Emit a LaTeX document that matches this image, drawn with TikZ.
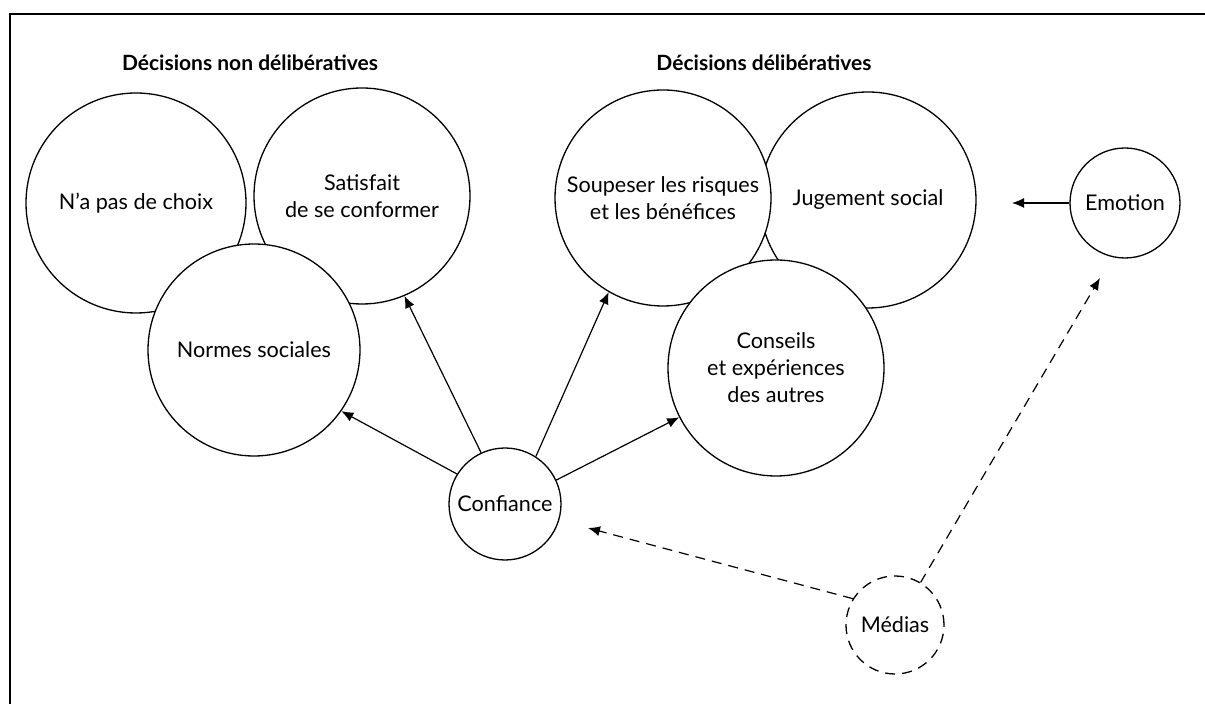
\documentclass[tikz,border=0pt]{standalone}
\usepackage{fontspec}
\setmainfont{Lato}
\usetikzlibrary{arrows.meta}

\begin{document}
\begin{tikzpicture}[x=0.5pt, y=-0.5pt,
  bigcirc/.style={draw, fill=white, circle, line width=0.65pt, minimum size=108pt, inner sep=0pt, align=center, font=\fontsize{10.8}{13.5}\selectfont},
  smallcirc/.style={draw, fill=white, circle, line width=0.65pt, inner sep=0pt, align=center, font=\fontsize{10.8}{13.5}\selectfont},
  heading/.style={font=\bfseries\fontsize{10.5}{12}\selectfont},
  arr/.style={-{Latex[length=6pt, width=5pt]}, line width=0.6pt}]
  \useasboundingbox (0,0) rectangle (1205,704);
  % Frame
  \draw[line width=0.8pt] (10,704) -- (10,14) -- (1205,14);
  % Headings
  \node[heading] (nondelib) at (250,63) {Décisions non délibératives};
  \node[heading] (delib) at (764,63) {Décisions délibératives};
  % Circles (later ones cover earlier ones)
  \node[bigcirc, minimum size=110pt] (choix) at (136,203) {N'a pas de choix};
  \node[bigcirc] (conforme) at (362,196) {Satisfait\\de se conformer};
  \node[bigcirc, minimum size=106pt] (normes) at (254,350) {Normes sociales};
  \node[bigcirc] (jugement) at (868,200) {Jugement social};
  \node[bigcirc] (soupeser) at (663,198) {Soupeser les risques\\et les bénéfices};
  \node[bigcirc] (conseils) at (776,368) {Conseils\\et expériences\\des autres};
  \node[smallcirc, minimum size=56pt] (confiance) at (505,504) {Confiance};
  \node[smallcirc, minimum size=49pt, dashed, dash pattern=on 5pt off 3.5pt] (medias) at (895,625) {Médias};
  \node[smallcirc, minimum size=55pt] (emotion) at (1125,203) {Emotion};
  % Free ends
  \coordinate (emotip) at (1012,203);
  \coordinate (conftip) at (588,528);
  \coordinate (mediatip) at (1100,278);
  % Arrows
  \draw[arr] (confiance.148) -- (normes.-35);
  \draw[arr] (confiance.115) -- (conforme.-67);
  \draw[arr] (confiance.57) -- (soupeser.240);
  \draw[arr] (confiance.25) -- (conseils.207);
  \draw[arr] (emotion.west) -- (emotip);
  \draw[arr, dashed, dash pattern=on 5pt off 3.5pt] (medias.148) -- (conftip);
  \draw[arr, dashed, dash pattern=on 5pt off 3.5pt] (medias.59) -- (mediatip);
\end{tikzpicture}
\end{document}
